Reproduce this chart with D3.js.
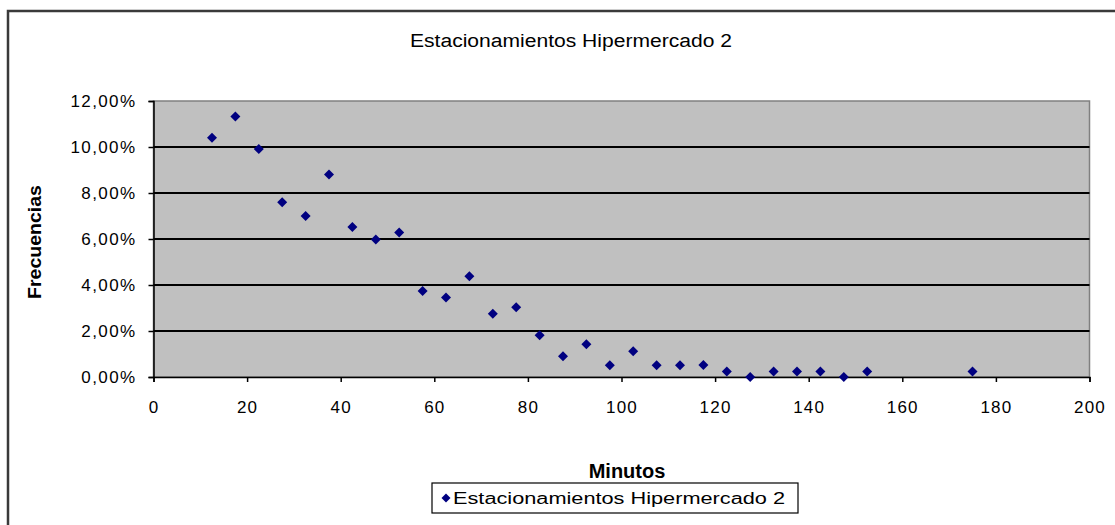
<!DOCTYPE html>
<html>
<head>
<meta charset="utf-8">
<script src="https://cdn.jsdelivr.net/npm/d3@7"></script>
<style>
  html, body { margin: 0; padding: 0; background: #ffffff; }
  svg { display: block; font-family: "Liberation Sans", Arial, sans-serif; }
</style>
</head>
<body>
<svg id="chart" width="1115" height="525"></svg>
<script>
// ---- data ----
const chartTitle = "Estacionamientos Hipermercado 2";
const seriesName = "Estacionamientos Hipermercado 2";
const xAxisTitle = "Minutos";
const yAxisTitle = "Frecuencias";
const minutes = [12.5, 17.5, 22.5, 27.5, 32.5, 37.5, 42.5, 47.5, 52.5, 57.5,
                 62.5, 67.5, 72.5, 77.5, 82.5, 87.5, 92.5, 97.5, 102.5, 107.5,
                 112.5, 117.5, 122.5, 127.5, 132.5, 137.5, 142.5, 147.5, 152.5, 175];
const frequencies = [0.1040, 0.1133, 0.0991, 0.0760, 0.0700, 0.0880, 0.0652, 0.0598, 0.0628, 0.0374,
                     0.0346, 0.0438, 0.0275, 0.0303, 0.0181, 0.0090, 0.0142, 0.0051, 0.0112, 0.0051,
                     0.0051, 0.0052, 0.0024, 0.0000, 0.0024, 0.0024, 0.0024, 0.0000, 0.0024, 0.0024];
const xTicks = [0, 20, 40, 60, 80, 100, 120, 140, 160, 180, 200];
const yTicks = [0, 0.02, 0.04, 0.06, 0.08, 0.10, 0.12];
const yTickLabels = ["0,00%", "2,00%", "4,00%", "6,00%", "8,00%", "10,00%", "12,00%"];

// ---- layout ----
const svg = d3.select("#chart");
const plot = { left: 153.5, right: 1089.5, top: 101, bottom: 377 };

const x = d3.scaleLinear().domain([0, 200]).range([plot.left, plot.right]);
const y = d3.scaleLinear().domain([0, 0.12]).range([plot.bottom, plot.top]);

// outer chart frame (extends past the visible window on right/bottom)
svg.append("rect")
  .attr("x", 8).attr("y", 11)
  .attr("width", 1130).attr("height", 540)
  .attr("fill", "none")
  .attr("stroke", "#3a3a3a")
  .attr("stroke-width", 2.5);

// plot background
svg.append("rect")
  .attr("x", plot.left).attr("y", plot.top)
  .attr("width", plot.right - plot.left)
  .attr("height", plot.bottom - plot.top)
  .attr("fill", "#c0c0c0")
  .attr("stroke", "#808080")
  .attr("stroke-width", 1.5);

// gridlines
svg.append("g")
  .selectAll("line")
  .data(yTicks.filter(d => d > 0 && d < 0.12))
  .join("line")
  .attr("x1", plot.left).attr("x2", plot.right)
  .attr("y1", d => Math.round(y(d))).attr("y2", d => Math.round(y(d)))
  .attr("stroke", "#000")
  .attr("stroke-width", 2);

// y axis
const yAxis = d3.axisLeft(y)
  .tickValues(yTicks)
  .tickSize(5)
  .tickPadding(12)
  .tickFormat((d, i) => yTickLabels[i]);
const gy = svg.append("g")
  .attr("transform", `translate(${plot.left},0)`)
  .call(yAxis);
gy.select(".domain").attr("stroke", "#000").attr("stroke-width", 1.5);
gy.selectAll(".tick line").attr("stroke", "#000").attr("stroke-width", 1.5);
gy.selectAll(".tick text")
  .attr("font-size", 17)
  .attr("letter-spacing", "1.4px")
  .attr("fill", "#000")
  .attr("font-family", "'Liberation Sans', Arial, sans-serif");

// x axis
const xAxis = d3.axisBottom(x)
  .tickValues(xTicks)
  .tickSize(5)
  .tickPadding(19)
  .tickFormat(d => String(d));
const gx = svg.append("g")
  .attr("transform", `translate(0,${plot.bottom})`)
  .call(xAxis);
gx.select(".domain").attr("stroke", "#000").attr("stroke-width", 1.5);
gx.selectAll(".tick line").attr("stroke", "#000").attr("stroke-width", 1.5);
gx.selectAll(".tick text")
  .attr("font-size", 17)
  .attr("letter-spacing", "1.2px")
  .attr("fill", "#000")
  .attr("font-family", "'Liberation Sans', Arial, sans-serif");

// points (diamonds)
const diamond = "M0,-5L5,0L0,5L-5,0Z";
svg.append("g")
  .selectAll("path")
  .data(minutes.map((m, i) => ({ m, f: frequencies[i] })))
  .join("path")
  .attr("d", diamond)
  .attr("transform", d => `translate(${x(d.m)},${y(d.f)})`)
  .attr("fill", "#000080");

// title
svg.append("text")
  .attr("x", 571).attr("y", 47)
  .attr("text-anchor", "middle")
  .attr("font-size", 18)
  .attr("textLength", 322)
  .attr("lengthAdjust", "spacingAndGlyphs")
  .attr("fill", "#000")
  .text(chartTitle);

// axis titles
svg.append("text")
  .attr("x", 627).attr("y", 478)
  .attr("text-anchor", "middle")
  .attr("font-size", 20)
  .attr("font-weight", "bold")
  .attr("fill", "#000")
  .text(xAxisTitle);

svg.append("text")
  .attr("transform", "translate(41,242) rotate(-90)")
  .attr("text-anchor", "middle")
  .attr("font-size", 19)
  .attr("font-weight", "bold")
  .attr("textLength", 114)
  .attr("lengthAdjust", "spacingAndGlyphs")
  .attr("fill", "#000")
  .text(yAxisTitle);

// legend
const leg = svg.append("g");
leg.append("rect")
  .attr("x", 432).attr("y", 483)
  .attr("width", 366).attr("height", 30)
  .attr("fill", "#fff")
  .attr("stroke", "#000")
  .attr("stroke-width", 1.2);
leg.append("path")
  .attr("d", "M0,-4.5L4.5,0L0,4.5L-4.5,0Z")
  .attr("transform", "translate(446,498)")
  .attr("fill", "#000080");
leg.append("text")
  .attr("x", 453).attr("y", 504)
  .attr("font-size", 16)
  .attr("textLength", 332)
  .attr("lengthAdjust", "spacingAndGlyphs")
  .attr("fill", "#000")
  .text(seriesName);
</script>
</body>
</html>
